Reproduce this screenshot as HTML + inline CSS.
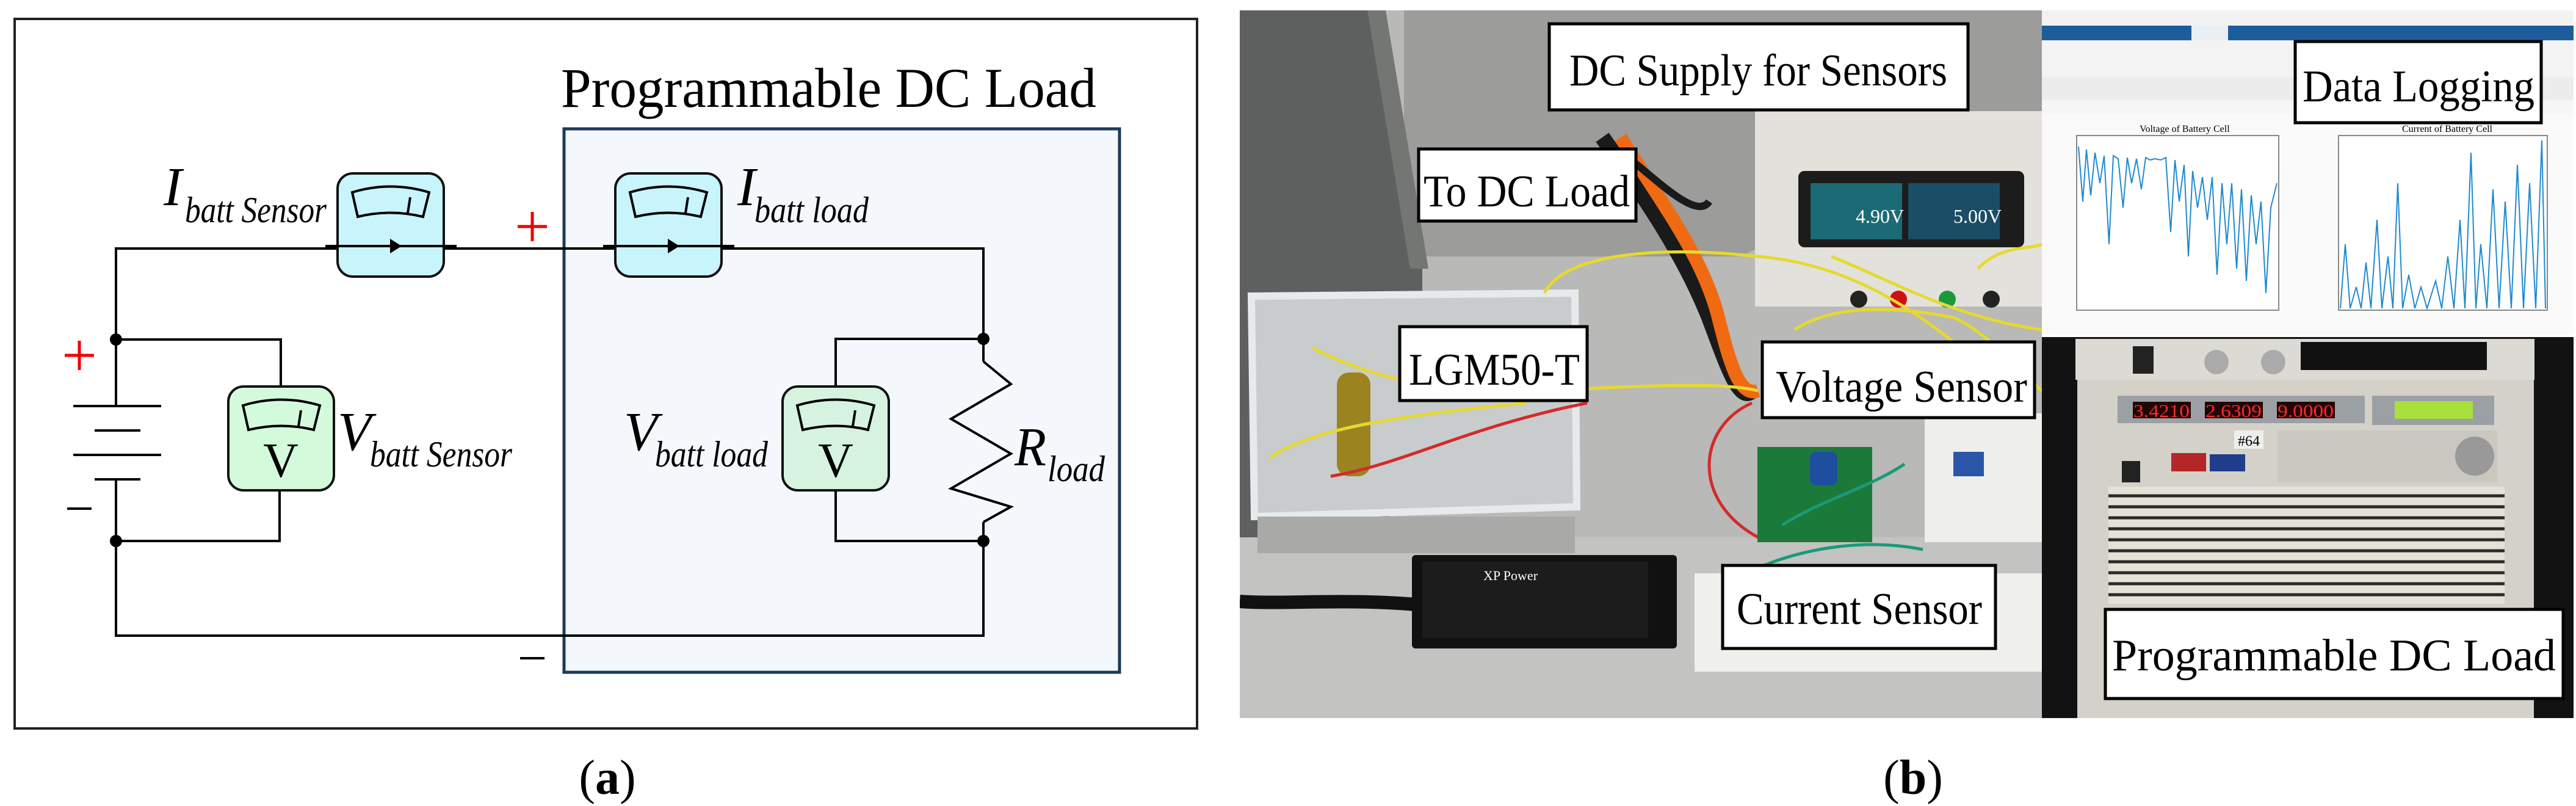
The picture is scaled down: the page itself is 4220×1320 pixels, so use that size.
<!DOCTYPE html>
<html><head><meta charset="utf-8"><style>
html,body{margin:0;padding:0;background:#fff;}
svg{display:block;}
text{font-family:"Liberation Serif",serif;}
</style></head><body>
<svg width="4220" height="1320" viewBox="0 0 4220 1320" xmlns="http://www.w3.org/2000/svg">
<rect width="4220" height="1320" fill="#fff"/>
<!-- ===== Panel (a) ===== -->
<rect x="24" y="31" width="1937" height="1162" fill="#fff" stroke="#222" stroke-width="4"/>
<text x="919" y="175" font-size="92" textLength="877" lengthAdjust="spacingAndGlyphs">Programmable DC Load</text>
<rect x="924" y="211" width="910" height="890" fill="#f4f8fd" stroke="#1d3a58" stroke-width="5"/>
<g stroke="#000" stroke-width="4" fill="none">
<polyline points="190,665 190,407 1611,407 1611,592"/>
<polyline points="1611,855 1611,1041 190,1041 190,785"/>
<polyline points="190,556 460,556 460,633"/>
<polyline points="190,886 458,886 458,803"/>
<polyline points="1611,555 1369,555 1369,633"/>
<polyline points="1611,886 1369,886 1369,803"/>
<polyline points="1611,592 1656,629 1558,686 1656,743 1558,800 1656,830 1611,855"/>
<line x1="120" y1="665" x2="264" y2="665"/>
<line x1="155" y1="705" x2="230" y2="705"/>
<line x1="120" y1="745" x2="264" y2="745"/>
<line x1="155" y1="785" x2="230" y2="785"/>
</g>
<g fill="#000"><circle cx="190" cy="556" r="10"/><circle cx="190" cy="886" r="10"/><circle cx="1611" cy="555" r="10"/><circle cx="1611" cy="886" r="10"/></g>
<defs>
<g id="dial"><path d="M24,31 Q87,12 150,31 L140,71 Q87,58 33,71 Z" fill="none" stroke="#000" stroke-width="4"/><line x1="119" y1="39" x2="115" y2="65" stroke="#000" stroke-width="4"/></g>
</defs>
<g transform="translate(553,284)"><rect x="0" y="0" width="174" height="169" rx="25" fill="#c8f4fc" stroke="#111" stroke-width="4"/><use href="#dial"/><line x1="-20" y1="119" x2="195" y2="119" stroke="#000" stroke-width="4"/><polygon points="86,107 105,119 86,131" fill="#000"/></g>
<g transform="translate(1008,284)"><rect x="0" y="0" width="174" height="169" rx="25" fill="#c8f4fc" stroke="#111" stroke-width="4"/><use href="#dial"/><line x1="-20" y1="119" x2="195" y2="119" stroke="#000" stroke-width="4"/><polygon points="86,107 105,119 86,131" fill="#000"/></g>
<g transform="translate(374,633)"><rect x="0" y="0" width="173" height="170" rx="25" fill="#d4fadc" stroke="#111" stroke-width="4"/><use href="#dial"/><text x="86" y="148" font-size="80" text-anchor="middle">V</text></g>
<g transform="translate(1282,633)"><rect x="0" y="0" width="174" height="170" rx="25" fill="#d6f3df" stroke="#111" stroke-width="4"/><use href="#dial"/><text x="87" y="148" font-size="80" text-anchor="middle">V</text></g>
<g stroke="#e00" stroke-width="5"><line x1="106" y1="582" x2="154" y2="582"/><line x1="130" y1="558" x2="130" y2="606"/><line x1="848" y1="371" x2="896" y2="371"/><line x1="872" y1="347" x2="872" y2="395"/></g>
<line x1="110" y1="833" x2="150" y2="833" stroke="#000" stroke-width="4"/>
<line x1="852" y1="1078" x2="892" y2="1078" stroke="#000" stroke-width="4"/>
<g font-style="italic">
<text x="268" y="336" font-size="90">I</text>
<text x="303" y="364" font-size="60" textLength="232" lengthAdjust="spacingAndGlyphs">batt Sensor</text>
<text x="1208" y="336" font-size="90">I</text>
<text x="1236" y="364" font-size="60" textLength="187" lengthAdjust="spacingAndGlyphs">batt load</text>
<text x="553" y="737" font-size="90" textLength="55" lengthAdjust="spacingAndGlyphs">V</text>
<text x="606" y="764" font-size="60" textLength="233" lengthAdjust="spacingAndGlyphs">batt Sensor</text>
<text x="1022" y="737" font-size="90" textLength="55" lengthAdjust="spacingAndGlyphs">V</text>
<text x="1073" y="764" font-size="60" textLength="185" lengthAdjust="spacingAndGlyphs">batt load</text>
<text x="1662" y="762" font-size="90" textLength="52" lengthAdjust="spacingAndGlyphs">R</text>
<text x="1716" y="788" font-size="60" textLength="94" lengthAdjust="spacingAndGlyphs">load</text>
</g>
<text x="995" y="1300" font-size="80" text-anchor="middle">(<tspan font-weight="bold">a</tspan>)</text>
<!-- ===== Panel (b) ===== -->
<defs><clipPath id="ph"><rect x="2031" y="17" width="1314" height="1159"/></clipPath></defs>
<g clip-path="url(#ph)">
<rect x="2031" y="17" width="1314" height="1159" fill="#b9b9b7"/>
<polygon points="2300,17 3345,17 3345,200 2850,420 2300,420" fill="#9c9c9a"/>
<polygon points="2031,17 2270,17 2330,440 2330,820 2031,960" fill="#5d605e"/>
<polygon points="2240,17 2270,17 2340,440 2310,440" fill="#747674"/>
<rect x="2031" y="880" width="1314" height="296" fill="#c3c3c1"/>
<polygon points="2050,485 2580,480 2583,830 2055,846" fill="#c9cccd" stroke="#e6eaec" stroke-width="12"/>
<rect x="2060" y="846" width="520" height="60" fill="#a9a9a7"/>
<path d="M2625,225 C2700,330 2760,420 2800,520 C2830,600 2850,660 2870,640" stroke="#1a1a1a" stroke-width="26" fill="none"/>
<path d="M2655,225 C2720,330 2790,420 2815,520 C2835,600 2850,650 2880,640" stroke="#f06a14" stroke-width="22" fill="none"/>
<path d="M2670,260 C2720,300 2780,360 2800,330" stroke="#1a1a1a" stroke-width="12" fill="none"/>
<rect x="2190" y="610" width="55" height="170" rx="20" fill="#9b8420"/>
<rect x="2875" y="182" width="470" height="320" fill="#e3e1dc"/>
<rect x="2946" y="280" width="370" height="125" rx="10" fill="#1c1c1c"/>
<rect x="2966" y="300" width="150" height="92" fill="#1b6b76"/>
<rect x="3126" y="300" width="150" height="92" fill="#1b4d66"/>
<text x="3040" y="365" font-size="32" fill="#fff" font-family="Liberation Sans">4.90V</text>
<text x="3200" y="365" font-size="32" fill="#fff" font-family="Liberation Sans">5.00V</text>
<circle cx="3045" cy="490" r="14" fill="#222"/><circle cx="3110" cy="490" r="14" fill="#c11"/><circle cx="3190" cy="490" r="14" fill="#1a9a3a"/><circle cx="3262" cy="490" r="14" fill="#222"/>
<g stroke="#e6d930" stroke-width="5" fill="none">
<path d="M2530,480 C2560,420 2700,400 2880,420 C3000,430 3100,480 3200,560"/>
<path d="M3000,420 C3100,460 3200,520 3345,540"/>
<path d="M2150,570 C2250,620 2350,640 2480,640 C2600,640 2800,620 2880,640"/>
<path d="M2080,750 C2150,700 2300,680 2500,660"/>
<path d="M3240,440 C3280,400 3320,410 3345,400"/>
<path d="M2940,540 C3000,500 3100,500 3200,520 C3250,540 3300,600 3345,640"/>
</g>
<g stroke="#d42a2a" stroke-width="5" fill="none">
<path d="M2180,780 C2300,760 2400,700 2600,660"/>
<path d="M2870,660 C2780,700 2770,820 2880,880 C2930,900 3000,860 3040,840"/>
</g>
<rect x="2879" y="732" width="188" height="156" fill="#1b7a3a"/>
<rect x="2965" y="740" width="45" height="55" rx="10" fill="#1f4ea0"/>
<rect x="3153" y="677" width="192" height="211" fill="#eeeeea"/>
<rect x="3200" y="740" width="50" height="40" fill="#2a55a8"/>
<rect x="2776" y="939" width="569" height="161" fill="#efefec"/>
<rect x="2313" y="909" width="434" height="153" rx="6" fill="#111"/>
<rect x="2330" y="920" width="370" height="125" fill="#1c1c1c"/>
<text x="2430" y="950" font-size="22" fill="#fff" font-family="Liberation Sans">XP Power</text>
<path d="M2031,985 C2100,990 2200,980 2320,990" stroke="#111" stroke-width="22" fill="none"/>
<g stroke="#1a9a7a" stroke-width="5" fill="none"><path d="M2880,930 C2950,900 3050,880 3150,900"/><path d="M2920,860 C2980,820 3060,800 3120,760"/></g>
</g>
<!-- screenshot -->
<rect x="3345" y="17" width="871" height="531" fill="#fafafa"/>
<rect x="3345" y="17" width="871" height="25" fill="#f2f2f2"/>
<rect x="3345" y="42" width="871" height="24" fill="#1d5d9c"/>
<rect x="3590" y="42" width="60" height="24" fill="#e9eff5"/>
<rect x="3345" y="66" width="871" height="60" fill="#f3f3f3"/>
<rect x="3345" y="126" width="871" height="38" fill="#ececec"/>
<rect x="3345" y="164" width="871" height="22" fill="#f6f6f6"/>
<rect x="3402" y="222" width="331" height="286" fill="#fff" stroke="#888" stroke-width="2"/>
<rect x="3831" y="222" width="342" height="286" fill="#fff" stroke="#888" stroke-width="2"/>
<text x="3505" y="216" font-size="16" font-family="Liberation Sans">Voltage of Battery Cell</text>
<text x="3935" y="216" font-size="16" font-family="Liberation Sans">Current of Battery Cell</text>
<polyline fill="none" stroke="#1f8ad0" stroke-width="2" points="3405,240 3412,330 3418,245 3425,320 3432,250 3440,300 3447,255 3455,400 3462,255 3470,260 3478,340 3485,258 3492,300 3500,260 3508,310 3515,258 3522,262 3530,260 3540,262 3548,258 3556,380 3563,262 3570,330 3578,270 3585,420 3592,280 3600,340 3608,290 3616,360 3624,290 3632,450 3640,300 3648,400 3656,300 3664,440 3672,310 3680,460 3688,320 3696,400 3704,330 3712,480 3720,340 3730,300"/>
<polyline fill="none" stroke="#1f8ad0" stroke-width="2" points="3834,505 3842,400 3850,505 3860,470 3868,505 3876,430 3884,505 3894,360 3902,505 3912,420 3920,505 3928,300 3936,505 3946,450 3956,505 3966,470 3976,505 3990,460 4000,505 4010,420 4020,505 4030,360 4038,505 4048,250 4056,505 4064,400 4074,505 4084,310 4094,505 4104,330 4114,505 4124,270 4134,505 4144,300 4154,505 4164,230 4170,505"/>
<!-- DC load -->
<rect x="3345" y="552" width="871" height="624" fill="#121212"/>
<rect x="3403" y="555" width="748" height="621" fill="#d3d1c8"/>
<rect x="3400" y="555" width="752" height="67" fill="#dcdad4"/>
<rect x="3769" y="560" width="305" height="46" fill="#111"/>
<rect x="3494" y="567" width="34" height="45" fill="#222"/>
<circle cx="3631" cy="593" r="20" fill="#aaa"/><circle cx="3724" cy="593" r="20" fill="#aaa"/>
<rect x="3469" y="648" width="405" height="45" fill="#9ba0a4"/>
<rect x="3886" y="648" width="200" height="48" fill="#9ba0a4"/>
<rect x="3494" y="658" width="95" height="27" fill="#220404"/><rect x="3612" y="658" width="95" height="27" fill="#220404"/><rect x="3730" y="658" width="95" height="27" fill="#220404"/>
<text x="3495" y="683" font-size="30" fill="#ff2a2a" font-family="Liberation Mono" textLength="92" lengthAdjust="spacingAndGlyphs">3.4210</text>
<text x="3613" y="683" font-size="30" fill="#ff2a2a" font-family="Liberation Mono" textLength="92" lengthAdjust="spacingAndGlyphs">2.6309</text>
<text x="3731" y="683" font-size="30" fill="#ff2a2a" font-family="Liberation Mono" textLength="92" lengthAdjust="spacingAndGlyphs">9.0000</text>
<rect x="3923" y="657" width="128" height="29" fill="#a8e03c"/>
<rect x="3731" y="705" width="360" height="85" fill="#c9c7c0"/>
<rect x="3660" y="705" width="48" height="30" fill="#eee"/>
<text x="3666" y="730" font-size="24" font-family="Liberation Sans">#64</text>
<rect x="3557" y="742" width="57" height="30" fill="#b52626"/><rect x="3620" y="744" width="58" height="28" fill="#1f3d8a"/>
<rect x="3476" y="755" width="30" height="35" fill="#222"/>
<circle cx="4054" cy="747" r="32" fill="#999"/>
<rect x="3454" y="797" width="649" height="192" fill="#e4e1d6"/>
<g stroke="#2a2a28" stroke-width="5">
<line x1="3454" y1="812" x2="4103" y2="812"/><line x1="3454" y1="830" x2="4103" y2="830"/><line x1="3454" y1="848" x2="4103" y2="848"/><line x1="3454" y1="866" x2="4103" y2="866"/><line x1="3454" y1="884" x2="4103" y2="884"/><line x1="3454" y1="902" x2="4103" y2="902"/><line x1="3454" y1="920" x2="4103" y2="920"/><line x1="3454" y1="938" x2="4103" y2="938"/><line x1="3454" y1="956" x2="4103" y2="956"/><line x1="3454" y1="974" x2="4103" y2="974"/>
</g>
<!-- label boxes -->
<g fill="#fff" stroke="#000" stroke-width="5">
<rect x="2538" y="39" width="686" height="141"/>
<rect x="2324" y="244" width="356" height="118"/>
<rect x="2293" y="535" width="307" height="121"/>
<rect x="2887" y="560" width="446" height="124"/>
<rect x="2822" y="926" width="447" height="136"/>
<rect x="3760" y="68" width="403" height="133"/>
<rect x="3449" y="998" width="750" height="146"/>
</g>
<g font-size="74">
<text x="2571" y="140" textLength="619" lengthAdjust="spacingAndGlyphs">DC Supply for Sensors</text>
<text x="2332" y="338" textLength="338" lengthAdjust="spacingAndGlyphs">To DC Load</text>
<text x="2308" y="630" textLength="280" lengthAdjust="spacingAndGlyphs">LGM50-T</text>
<text x="2909" y="658" textLength="412" lengthAdjust="spacingAndGlyphs">Voltage Sensor</text>
<text x="2845" y="1022" textLength="402" lengthAdjust="spacingAndGlyphs">Current Sensor</text>
<text x="3772" y="166" textLength="380" lengthAdjust="spacingAndGlyphs">Data Logging</text>
<text x="3460" y="1098" textLength="727" lengthAdjust="spacingAndGlyphs">Programmable DC Load</text>
</g>
<text x="3134" y="1300" font-size="80" text-anchor="middle">(<tspan font-weight="bold">b</tspan>)</text>
</svg>
</body></html>
